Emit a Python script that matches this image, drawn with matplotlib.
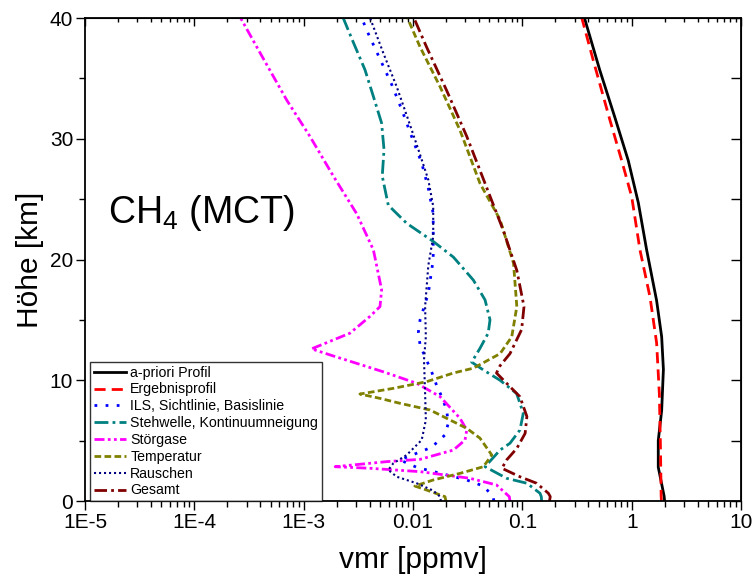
"""CH4 (MCT) error budget — vmr profiles vs. altitude."""

import matplotlib
matplotlib.use("Agg")
import matplotlib.pyplot as plt
from matplotlib.ticker import FixedLocator, LogLocator, NullFormatter, NullLocator

plt.rcParams["font.family"] = ["Liberation Sans", "DejaVu Sans"]

# a-priori profile
apr_alt = [0, 0.4, 2.8, 5.0, 7.5, 10.9, 13.6, 16.6, 20.8, 24.7, 28.2, 31.8, 35.7, 40]
apr_vmr = [2.0, 1.98, 1.75, 1.75, 1.88, 1.95, 1.88, 1.69, 1.37, 1.15, 0.93, 0.70, 0.51, 0.37]

# retrieved profile
res_alt = [0, 0.4, 4.8, 8.9, 13.1, 16.9, 20.8, 25.2, 28.2, 31.6, 36.5, 40]
res_vmr = [1.87, 1.86, 1.83, 1.79, 1.69, 1.47, 1.19, 1.0, 0.81, 0.63, 0.445, 0.35]

# ILS, line of sight, baseline
ils_alt = [0, 0.41, 1.24, 1.74, 2.51, 2.79, 3.4, 3.67, 4.45, 5.47, 6.43, 7.54, 8.64, 9.6,
           10.7, 12.9, 14.0, 15.0, 17.2, 20.0, 21.9, 23.8, 25.9, 28.0, 30.2, 32.4, 34.5,
           36.6, 38.7, 40]
ils_vmr = [0.055, 0.0536, 0.044, 0.031, 0.0143, 0.0108, 0.0076, 0.009, 0.0148, 0.0196,
           0.021, 0.0203, 0.0183, 0.0164, 0.0148, 0.0116, 0.0112, 0.0116, 0.0138, 0.0153,
           0.0153, 0.0153, 0.0138, 0.012, 0.0097, 0.0079, 0.00638, 0.00499, 0.0039, 0.00339]

# standing wave, continuum slope
stw_alt = [0, 0.36, 0.64, 1.47, 1.88, 2.84, 4.22, 4.78, 5.88, 7.26, 8.9, 10.0, 10.85, 11.5,
           12.65, 13.9, 15.0, 16.65, 18.3, 20.2, 21.5, 23.0, 24.5, 26.9, 29.1, 31.3, 33.5,
           35.7, 38.0, 40]
stw_vmr = [0.15, 0.149, 0.145, 0.11, 0.0718, 0.0456, 0.0625, 0.077, 0.095, 0.102, 0.0887,
           0.0625, 0.044, 0.0344, 0.041, 0.0487, 0.0506, 0.0456, 0.0356, 0.0234, 0.0153,
           0.00875, 0.00594, 0.00523, 0.00543, 0.00516, 0.00434, 0.00364, 0.00284, 0.0023]

# interfering gases
int_alt = [0, 0.36, 1.33, 1.88, 2.43, 2.71, 2.84, 3.26, 3.45, 4.22, 5.05, 5.88, 6.85, 8.64,
           9.75, 10.7, 12.1, 12.6, 13.9, 15.3, 16.1, 17.5, 20.8, 23.8, 26.9, 30.2, 33.2,
           37.1, 40]
int_vmr = [0.077, 0.076, 0.058, 0.0332, 0.0116, 0.00405, 0.00194, 0.00574, 0.0116, 0.0234,
           0.0299, 0.031, 0.0269, 0.0177, 0.0108, 0.00535, 0.00174, 0.00118, 0.00265,
           0.00405, 0.00499, 0.00516, 0.00434, 0.00305, 0.00187, 0.00114, 0.0007, 0.0004,
           0.000265]

# temperature
tmp_alt = [0, 0.36, 0.91, 1.24, 1.74, 2.29, 2.84, 3.81, 5.2, 6.02, 6.85, 7.54, 8.09, 8.5,
           8.86, 9.33, 9.88, 10.6, 11.0, 12.2, 13.6, 16.1, 19.7, 23.3, 26.3, 30.7, 34.3,
           37.6, 40]
tmp_vmr = [0.02, 0.0196, 0.0133, 0.0104, 0.0153, 0.0269, 0.044, 0.0525, 0.041, 0.031,
           0.0203, 0.0143, 0.0076, 0.00499, 0.00327, 0.0066, 0.0133, 0.0234, 0.0356, 0.0625,
           0.080, 0.089, 0.083, 0.0625, 0.041, 0.0269, 0.0177, 0.0116, 0.0089]

# noise
noi_alt = [0, 0.36, 0.86, 1.47, 2.01, 2.57, 3.12, 3.81, 5.05, 6.7, 8.92, 11.7, 13.6, 16.1,
           19.5, 21.9, 24.4, 26.6, 29.1, 31.55, 34.3, 37.1, 40]
noi_vmr = [0.018, 0.0177, 0.0153, 0.0108, 0.0071, 0.00594, 0.0066, 0.00875, 0.012, 0.0131,
           0.0129, 0.0126, 0.0131, 0.0129, 0.0138, 0.0153, 0.0153, 0.0138, 0.0112, 0.00906,
           0.0071, 0.00535, 0.00405]

# total
tot_alt = [0, 0.36, 0.64, 1.47, 2.01, 2.71, 3.4, 4.36, 5.6, 7.0, 8.64, 9.75, 10.6, 11.2,
           12.2, 14.2, 16.1, 19.1, 22.4, 26.3, 30.2, 34.0, 37.6, 40]
tot_vmr = [0.177, 0.18, 0.173, 0.135, 0.095, 0.065, 0.0718, 0.089, 0.106, 0.11, 0.095,
           0.0718, 0.058, 0.0625, 0.077, 0.0985, 0.1035, 0.089, 0.067, 0.0456, 0.031,
           0.0203, 0.0133, 0.0102]

x_ticks = [1e-5, 1e-4, 1e-3, 1e-2, 1e-1, 1, 10]
x_labels = ["1E-5", "1E-4", "1E-3", "0.01", "0.1", "1", "10"]

fig = plt.figure(figsize=(7.53, 5.76), dpi=100)
ax = fig.add_axes([0.1129, 0.1302, 0.8712, 0.8385])

ax.plot(apr_vmr, apr_alt, color="black", lw=2, label="a-priori Profil")
ax.plot(res_vmr, res_alt, color="#ff0000", lw=2, dashes=(4, 2.2), label="Ergebnisprofil")
ax.plot(ils_vmr, ils_alt, color="#0000ff", lw=2, dashes=(1, 3), label="ILS, Sichtlinie, Basislinie")
ax.plot(stw_vmr, stw_alt, color="#008080", lw=2, dashes=(5, 1.5, 1, 1.5),
        label="Stehwelle, Kontinuumneigung")
ax.plot(int_vmr, int_alt, color="#ff00ff", lw=2, dashes=(3.6, 1.2, 1, 1.2, 1, 1.2),
        label="Störgase")
ax.plot(tmp_vmr, tmp_alt, color="#808000", lw=2, dashes=(2.4, 1.2), label="Temperatur")
ax.plot(noi_vmr, noi_alt, color="#000080", lw=1.5, dashes=(1, 1.4), label="Rauschen")
ax.plot(tot_vmr, tot_alt, color="#800000", lw=2, dashes=(4.5, 1.5, 1, 1.5), label="Gesamt")

ax.set_xscale("log")
ax.set_xlim(1e-5, 10)
ax.set_ylim(0, 40)
ax.set_xticks(x_ticks)
ax.set_xticklabels(x_labels)
ax.xaxis.set_minor_locator(LogLocator(base=10, subs=range(2, 10), numticks=20))
ax.xaxis.set_minor_formatter(NullFormatter())
ax.set_yticks([0, 10, 20, 30, 40])
ax.yaxis.set_minor_locator(FixedLocator([5, 15, 25, 35]))

ax.tick_params(which="both", direction="out", width=1, labelsize=15, pad=2)
ax.tick_params(which="major", length=6.5)
ax.tick_params(which="minor", length=4)
for s in ax.spines.values():
    s.set_linewidth(1.3)

# mirrored inward ticks on top and right
top = ax.secondary_xaxis("top")
top.set_xticks(x_ticks)
top.xaxis.set_minor_locator(LogLocator(base=10, subs=range(2, 10), numticks=20))
top.xaxis.set_minor_formatter(NullFormatter())
top.tick_params(which="both", direction="in", labeltop=False, width=1)
top.tick_params(which="major", length=6)
top.tick_params(which="minor", length=3)

right = ax.secondary_yaxis("right")
right.set_yticks([0, 5, 10, 15, 20, 25, 30, 35, 40])
right.yaxis.set_minor_locator(NullLocator())
right.tick_params(which="both", direction="in", labelright=False, length=7, width=1)

ax.set_xlabel("vmr [ppmv]", fontsize=21.5, labelpad=10)
ax.set_ylabel("Höhe [km]", fontsize=21.5, labelpad=4)

ax.text(0.035, 0.576, r"CH$_\mathregular{4}$ (MCT)", transform=ax.transAxes,
        fontsize=27, va="baseline", ha="left")

leg = ax.legend(loc="lower left", bbox_to_anchor=(0.0076, 0.0), borderaxespad=0,
                fontsize=10.2, handlelength=2.3, handletextpad=0.3, labelspacing=0.2,
                borderpad=0.25, frameon=True, fancybox=False)
leg.get_frame().set_edgecolor("black")
leg.get_frame().set_linewidth(1)

fig.savefig("out.png", dpi=100)
